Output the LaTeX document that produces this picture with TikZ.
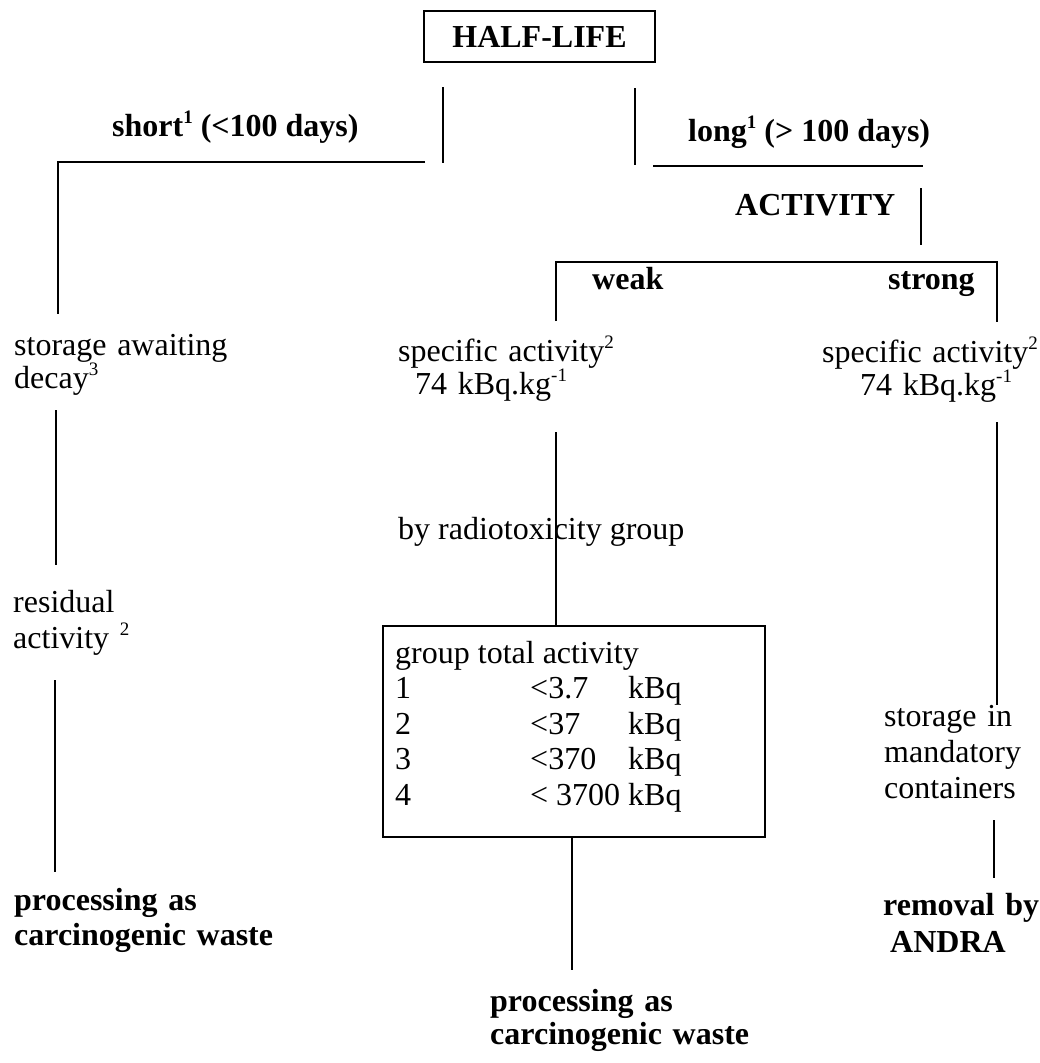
\documentclass[tikz,border=0pt]{standalone}
\usepackage{fontspec}
\setmainfont{Liberation Serif}
\newcommand{\supr}[1]{\raisebox{13pt}{\fontsize{19}{19}\selectfont #1}}
\begin{document}
\begin{tikzpicture}[x=1pt,y=-1pt,
  txt/.style={font=\fontsize{32}{35}\selectfont, inner sep=0pt, anchor=base west},
  btxt/.style={txt, font=\fontsize{32}{35}\selectfont\bfseries},
  ml/.style={inner sep=0pt, anchor=base west, text width=330pt, align=left, font=\fontsize{32}{#1}\selectfont},
  bml/.style={ml=#1, font=\fontsize{32}{#1}\selectfont\bfseries},
  ln/.style={line width=1.5pt}]
\useasboundingbox (0,0) rectangle (1039,1063);

% ---- nodes ----
\node[draw, ln, btxt, anchor=center, minimum width=231pt, minimum height=51pt] (hl) at (539.5,36.5) {HALF-LIFE};
\node[btxt] (short) at (112,136) {short\supr{1} (<100 days)};
\node[btxt] (long) at (688,141) {long\supr{1} (> 100 days)};
\node[btxt] (act) at (735,215) {ACTIVITY};
\node[btxt] (weak) at (592,289) {weak};
\node[btxt] (strong) at (888,289) {strong};

\node[ml=33] (sad) at (14,355) {storage awaiting\\decay\supr{3}};
\node[ml=32] (sa1) at (398,361) {specific activity\supr{2}\\\hspace*{17pt}74 kBq.kg\supr{-1}};
\node[ml=32] (sa2) at (822,362) {specific activity\supr{2}\\\hspace*{38pt}74 kBq.kg\supr{-1}};
\node[txt] (rad) at (398,539) {by radiotoxicity group};
\node[ml=36] (res) at (13,612) {residual\\activity \supr{2}};

\node[draw, ln, minimum width=382pt, minimum height=211pt, inner sep=0pt, anchor=north west] (grp) at (382,625) {};
\node[txt, font=\fontsize{32}{35.5}\selectfont] (grpt) at (395,663) {\begin{tabular}[t]{@{}p{135pt}@{}p{98pt}@{}l@{}}
\multicolumn{3}{@{}l@{}}{group total activity}\\
1 & <3.7 & kBq\\
2 & <37 & kBq\\
3 & <370 & kBq\\
4 & < 3700 & kBq
\end{tabular}};

\node[ml=36] (sto) at (884,726) {storage in\\mandatory\\containers};
\node[bml=37] (rem) at (883,915) {removal by\\\hspace*{7pt}ANDRA};
\node[bml=35] (pw1) at (14,910) {processing as\\carcinogenic waste};
\node[bml=33] (pw2) at (490,1011) {processing as\\carcinogenic waste};

% ---- line end points ----
\coordinate (s1) at (58,162);
\coordinate (s2) at (425,162);
\coordinate (s3) at (58,314);
\coordinate (c1a) at (443,87);
\coordinate (c1b) at (443,163);
\coordinate (c2a) at (635,88);
\coordinate (c2b) at (635,165);
\coordinate (l1) at (653,166);
\coordinate (l2) at (923,166);
\coordinate (a1) at (921,188);
\coordinate (a2) at (921,245);
\coordinate (w1) at (556,321);
\coordinate (w2) at (556,262);
\coordinate (w3) at (997,262);
\coordinate (w4) at (997,322);
\coordinate (d1) at (56,410);
\coordinate (d2) at (56,565);
\coordinate (r1) at (55,680);
\coordinate (r2) at (55,872);
\coordinate (m1) at (556,432);
\coordinate (b2) at (572,970);
\coordinate (g1) at (997,422);
\coordinate (g2) at (997,705);
\coordinate (h1) at (994,820);
\coordinate (h2) at (994,878);

% ---- lines ----
\draw[ln] (s2) -- (s1) -- (s3);
\draw[ln] (c1a) -- (c1b);
\draw[ln] (c2a) -- (c2b);
\draw[ln] (l1) -- (l2);
\draw[ln] (a1) -- (a2);
\draw[ln] (w1) -- (w2) -- (w3) -- (w4);
\draw[ln] (d1) -- (d2);
\draw[ln] (r1) -- (r2);
\draw[ln] (m1) -- (m1 |- grp.north);
\draw[ln] (b2 |- grp.south) -- (b2);
\draw[ln] (g1) -- (g2);
\draw[ln] (h1) -- (h2);
\end{tikzpicture}
\end{document}
